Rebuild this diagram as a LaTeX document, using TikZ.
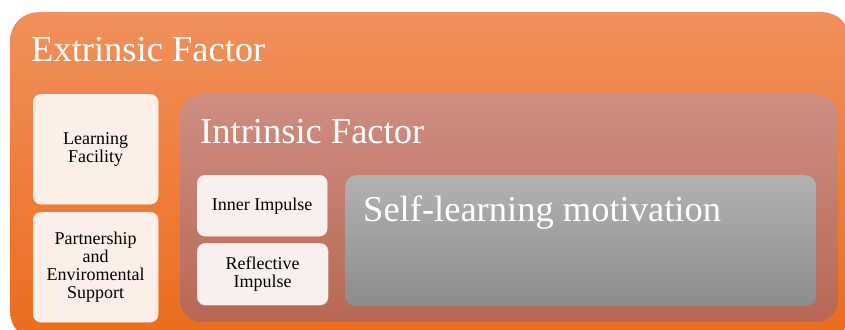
\documentclass[tikz,border=0pt]{standalone}
\usepackage{fontspec}
\setmainfont{Liberation Serif}
\definecolor{extTop}{RGB}{240,144,92}
\definecolor{extBot}{RGB}{236,108,28}
\definecolor{intTop}{RGB}{206,142,130}
\definecolor{intBot}{RGB}{184,104,84}
\definecolor{motTop}{RGB}{178,178,178}
\definecolor{motBot}{RGB}{140,140,140}
\definecolor{extCard}{RGB}{252,239,231}
\definecolor{intCard}{RGB}{247,240,239}
\begin{document}
\begin{tikzpicture}[x=1pt,y=-1pt,
  panel/.style={anchor=north west, inner sep=0pt, draw=none},
  card/.style={anchor=north west, inner sep=2pt, rounded corners=8pt,
    align=center, text=black, font=\fontsize{18}{18}\selectfont},
  title/.style={anchor=base west, inner sep=0pt, text=white,
    font=\fontsize{36.5}{40}\selectfont}]
\useasboundingbox (0,0) rectangle (845,329);
\clip (0,0) rectangle (845,329);
% outer panel
\node[panel, minimum width=840pt, minimum height=328pt, rounded corners=28pt,
  top color=extTop, bottom color=extBot] (ext) at (10,12) {};
\node[title] (extT) at (31,62) {Extrinsic Factor};
% extrinsic cards
\node[card, fill=extCard, draw=extCard!60!white, minimum width=125pt, minimum height=110pt]
  (lf) at (33,94) {Learning\\Facility};
\node[card, fill=extCard, draw=extCard!60!white, minimum width=125pt, minimum height=110pt]
  (pes) at (33,212) {Partnership\\and\\Enviromental\\Support};
% intrinsic panel
\node[panel, minimum width=658pt, minimum height=228pt, rounded corners=22pt,
  top color=intTop, bottom color=intBot] (int) at (180,94) {};
\node[title] (intT) at (200,143) {Intrinsic Factor};
% intrinsic cards
\node[card, fill=intCard, draw=intCard!70!white, minimum width=130pt, minimum height=61pt]
  (ii) at (197,175) {Inner Impulse};
\node[card, fill=intCard, draw=black!22, minimum width=131pt, minimum height=62pt]
  (ri) at (197,243) {Reflective\\Impulse};
% motivation panel
\node[panel, minimum width=471pt, minimum height=131pt, rounded corners=11pt,
  top color=motTop, bottom color=motBot] (mot) at (345,175) {};
\node[title] (motT) at (363,221) {Self-learning motivation};
\end{tikzpicture}
\end{document}
